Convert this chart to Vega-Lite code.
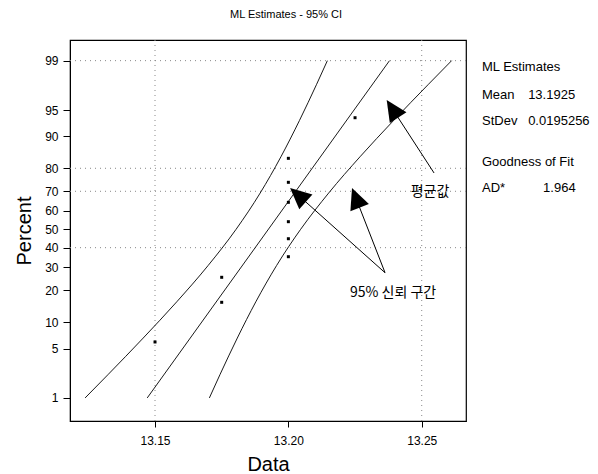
{
  "$schema": "https://vega.github.io/schema/vega-lite/v6.json",
  "width": 396,
  "height": 381,
  "autosize": {"type": "none"},
  "padding": {"left": 70, "top": 40, "right": 132, "bottom": 53},
  "background": "white",
  "config": {
    "view": {"stroke": "black", "strokeWidth": 1.2},
    "font": "Liberation Sans",
    "axis": {"domainColor": "black", "tickColor": "black", "labelColor": "black", "titleColor": "black", "grid": false, "titleFontWeight": "normal", "labelFont": "Liberation Sans", "titleFont": "Liberation Sans", "labelOverlap": false}
  },
  "title": {"text": "ML Estimates - 95% CI", "font": "Liberation Sans", "fontSize": 11, "fontWeight": "normal", "color": "black", "anchor": "middle", "dx": 18, "offset": 20},
  "datasets": {
    "obs": [
      {"Data": 13.15, "Percent": 6.0, "z": -1.554},
      {"Data": 13.175, "Percent": 15.7, "z": -1.007},
      {"Data": 13.175, "Percent": 25.4, "z": -0.662},
      {"Data": 13.2, "Percent": 35.3, "z": -0.378},
      {"Data": 13.2, "Percent": 44.8, "z": -0.13},
      {"Data": 13.2, "Percent": 54.2, "z": 0.105},
      {"Data": 13.2, "Percent": 64.5, "z": 0.372},
      {"Data": 13.2, "Percent": 74.1, "z": 0.648},
      {"Data": 13.2, "Percent": 83.6, "z": 0.979},
      {"Data": 13.225, "Percent": 93.8, "z": 1.539}
    ],
    "lines": [
      {"series": "fit", "Data": 13.147083, "Percent": 1, "z": -2.326},
      {"series": "fit", "Data": 13.237917, "Percent": 99, "z": 2.326},
      {"series": "lower", "Data": 13.123787, "Percent": 1, "z": -2.326},
      {"series": "lower", "Data": 13.132487, "Percent": 2.28, "z": -2},
      {"series": "lower", "Data": 13.145571, "Percent": 6.68, "z": -1.5},
      {"series": "lower", "Data": 13.158152, "Percent": 15.87, "z": -1},
      {"series": "lower", "Data": 13.1699, "Percent": 30.85, "z": -0.5},
      {"series": "lower", "Data": 13.180398, "Percent": 50, "z": 0},
      {"series": "lower", "Data": 13.189426, "Percent": 69.15, "z": 0.5},
      {"series": "lower", "Data": 13.197204, "Percent": 84.13, "z": 1},
      {"series": "lower", "Data": 13.204147, "Percent": 93.32, "z": 1.5},
      {"series": "lower", "Data": 13.210589, "Percent": 97.72, "z": 2},
      {"series": "lower", "Data": 13.214621, "Percent": 99, "z": 2.326},
      {"series": "upper", "Data": 13.170379, "Percent": 1, "z": -2.326},
      {"series": "upper", "Data": 13.174411, "Percent": 2.28, "z": -2},
      {"series": "upper", "Data": 13.180853, "Percent": 6.68, "z": -1.5},
      {"series": "upper", "Data": 13.187796, "Percent": 15.87, "z": -1},
      {"series": "upper", "Data": 13.195574, "Percent": 30.85, "z": -0.5},
      {"series": "upper", "Data": 13.204602, "Percent": 50, "z": 0},
      {"series": "upper", "Data": 13.2151, "Percent": 69.15, "z": 0.5},
      {"series": "upper", "Data": 13.226848, "Percent": 84.13, "z": 1},
      {"series": "upper", "Data": 13.239429, "Percent": 93.32, "z": 1.5},
      {"series": "upper", "Data": 13.252513, "Percent": 97.72, "z": 2},
      {"series": "upper", "Data": 13.261213, "Percent": 99, "z": 2.326}
    ],
    "gridH": [{"Percent": 99, "z": 2.3263}, {"Percent": 80, "z": 0.8416}, {"Percent": 70, "z": 0.5244}, {"Percent": 40, "z": -0.2533}],
    "gridV": [{"Data": 13.15}, {"Data": 13.25}],
    "arrows": [
      {"arrow": "a1", "end": "tail", "Data": 13.254625, "z": 0.777},
      {"arrow": "a1", "end": "head", "Data": 13.23925, "z": 1.648},
      {"arrow": "a2", "end": "tail", "Data": 13.23625, "z": -0.599},
      {"arrow": "a2", "end": "head", "Data": 13.20393, "z": 0.463},
      {"arrow": "a3", "end": "tail", "Data": 13.23625, "z": -0.599},
      {"arrow": "a3", "end": "head", "Data": 13.22545, "z": 0.419}
    ],
    "notes": [
      {"label": "평균값", "Data": 13.2531, "z": 0.514},
      {"label": "95% 신뢰 구간", "Data": 13.23925, "z": -0.879}
    ],
    "stats": [
      {"label": "ML Estimates", "Data": 13.2726, "z": 2.239},
      {"label": "Mean", "Data": 13.2726, "z": 1.852},
      {"label": "13.1925", "Data": 13.2899, "z": 1.852},
      {"label": "StDev", "Data": 13.2726, "z": 1.494},
      {"label": "0.0195256", "Data": 13.2899, "z": 1.494},
      {"label": "Goodness of Fit", "Data": 13.2726, "z": 0.928},
      {"label": "AD*", "Data": 13.2726, "z": 0.57},
      {"label": "1.964", "Data": 13.2955, "z": 0.57}
    ]
  },
  "layer": [
    {
      "data": {"name": "gridH"},
      "mark": {"type": "rule", "color": "#888", "strokeDash": [1, 4], "strokeWidth": 1},
      "encoding": {
        "y": {"field": "z", "type": "quantitative", "scale": {"domain": [-2.644, 2.611], "nice": false, "zero": false},
          "axis": {"values": [-2.3263, -1.6449, -1.2816, -0.8416, -0.5244, -0.2533, 0, 0.2533, 0.5244, 0.8416, 1.2816, 1.6449, 2.3263],
            "tickCount": 30, "labelOverlap": false,
            "labelExpr": "format(round(cumulativeNormal(datum.value) * 100), 'd')",
            "title": "Percent", "titleFontSize": 20, "titlePadding": 10, "labelFontSize": 12, "tickSize": 7, "labelPadding": 5}}
      }
    },
    {
      "data": {"name": "gridV"},
      "mark": {"type": "rule", "color": "#888", "strokeDash": [1, 4], "strokeWidth": 1},
      "encoding": {
        "x": {"field": "Data", "type": "quantitative", "scale": {"domain": [13.118125, 13.2666], "nice": false, "zero": false},
          "axis": {"values": [13.15, 13.2, 13.25], "format": ".2f", "title": "Data", "titleFontSize": 20, "titlePadding": 8, "labelFontSize": 12, "tickSize": 6, "labelPadding": 8}}
      }
    },
    {
      "data": {"name": "lines"},
      "mark": {"type": "line", "color": "black", "strokeWidth": 0.9, "interpolate": "monotone"},
      "encoding": {
        "x": {"field": "Data", "type": "quantitative", "scale": {"domain": [13.118125, 13.2666], "nice": false, "zero": false}},
        "y": {"field": "z", "type": "quantitative", "scale": {"domain": [-2.644, 2.611], "nice": false, "zero": false}},
        "detail": {"field": "series"},
        "order": {"field": "z", "type": "quantitative"}
      }
    },
    {
      "data": {"name": "obs"},
      "mark": {"type": "point", "shape": "square", "filled": true, "color": "black", "size": 9, "opacity": 1},
      "encoding": {
        "x": {"field": "Data", "type": "quantitative", "scale": {"domain": [13.118125, 13.2666], "nice": false, "zero": false}},
        "y": {"field": "z", "type": "quantitative", "scale": {"domain": [-2.644, 2.611], "nice": false, "zero": false}}
      }
    },
    {
      "data": {"name": "arrows"},
      "mark": {"type": "line", "color": "black", "strokeWidth": 1},
      "encoding": {
        "x": {"field": "Data", "type": "quantitative", "scale": {"domain": [13.118125, 13.2666], "nice": false, "zero": false}},
        "y": {"field": "z", "type": "quantitative", "scale": {"domain": [-2.644, 2.611], "nice": false, "zero": false}},
        "detail": {"field": "arrow"}
      }
    },
    {
      "data": {"name": "arrows"},
      "transform": [{"filter": "datum.arrow === 'a1' && datum.end === 'head'"}],
      "mark": {"type": "point", "shape": "M0,-1L0.85,0.8L-0.85,0.8Z", "filled": true, "color": "black", "size": 545, "opacity": 1, "angle": 327},
      "encoding": {
        "x": {"field": "Data", "type": "quantitative", "scale": {"domain": [13.118125, 13.2666], "nice": false, "zero": false}},
        "y": {"field": "z", "type": "quantitative", "scale": {"domain": [-2.644, 2.611], "nice": false, "zero": false}}
      }
    },
    {
      "data": {"name": "arrows"},
      "transform": [{"filter": "datum.arrow === 'a2' && datum.end === 'head'"}],
      "mark": {"type": "point", "shape": "M0,-1L0.85,0.8L-0.85,0.8Z", "filled": true, "color": "black", "size": 545, "opacity": 1, "angle": 311.5},
      "encoding": {
        "x": {"field": "Data", "type": "quantitative", "scale": {"domain": [13.118125, 13.2666], "nice": false, "zero": false}},
        "y": {"field": "z", "type": "quantitative", "scale": {"domain": [-2.644, 2.611], "nice": false, "zero": false}}
      }
    },
    {
      "data": {"name": "arrows"},
      "transform": [{"filter": "datum.arrow === 'a3' && datum.end === 'head'"}],
      "mark": {"type": "point", "shape": "M0,-1L0.85,0.8L-0.85,0.8Z", "filled": true, "color": "black", "size": 545, "opacity": 1, "angle": 338.7},
      "encoding": {
        "x": {"field": "Data", "type": "quantitative", "scale": {"domain": [13.118125, 13.2666], "nice": false, "zero": false}},
        "y": {"field": "z", "type": "quantitative", "scale": {"domain": [-2.644, 2.611], "nice": false, "zero": false}}
      }
    },
    {
      "data": {"name": "notes"},
      "mark": {"type": "text", "font": "Noto Sans CJK KR", "fontSize": 14, "color": "black", "align": "center", "baseline": "middle"},
      "encoding": {
        "x": {"field": "Data", "type": "quantitative", "scale": {"domain": [13.118125, 13.2666], "nice": false, "zero": false}},
        "y": {"field": "z", "type": "quantitative", "scale": {"domain": [-2.644, 2.611], "nice": false, "zero": false}},
        "text": {"field": "label"}
      }
    },
    {
      "data": {"name": "stats"},
      "mark": {"type": "text", "font": "Liberation Sans", "fontSize": 13, "color": "black", "align": "left", "baseline": "middle"},
      "encoding": {
        "x": {"field": "Data", "type": "quantitative", "scale": {"domain": [13.118125, 13.2666], "nice": false, "zero": false}},
        "y": {"field": "z", "type": "quantitative", "scale": {"domain": [-2.644, 2.611], "nice": false, "zero": false}},
        "text": {"field": "label"}
      }
    }
  ]
}
